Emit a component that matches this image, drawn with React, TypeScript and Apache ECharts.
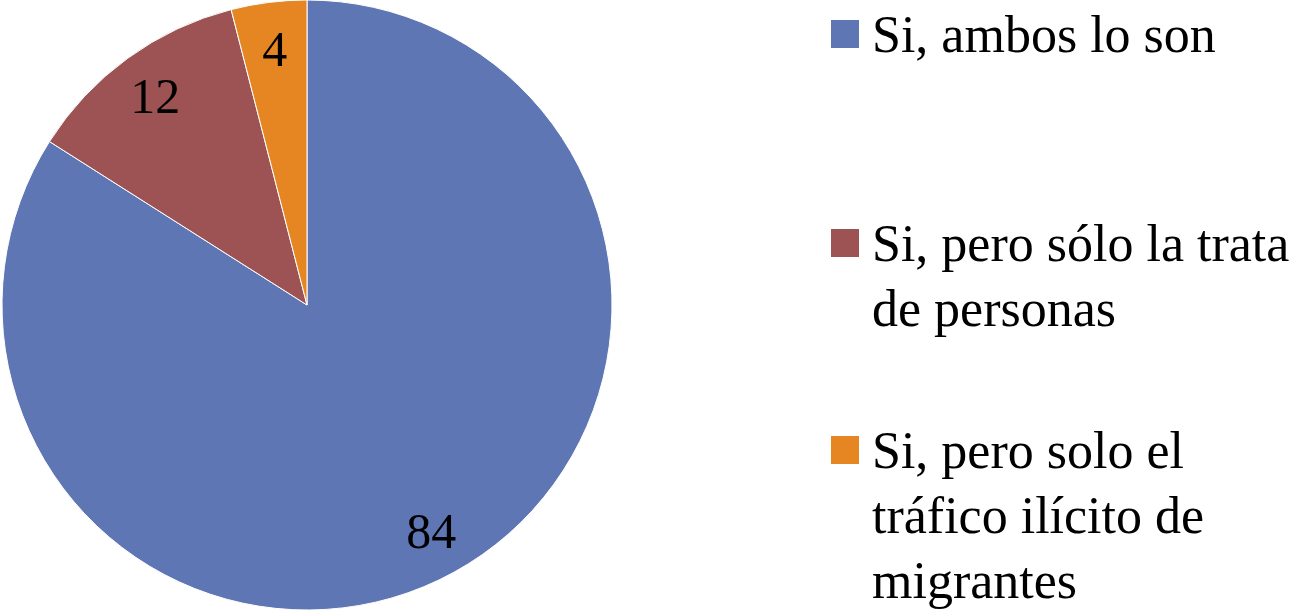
import React, { useEffect, useRef } from "react";
import * as echarts from "echarts";

const categories = [
  "Si, ambos lo son",
  "Si, pero sólo la trata de personas",
  "Si, pero solo el tráfico ilícito de migrantes",
];
const values = [84, 12, 4];
const legendLines = [
  ["Si, ambos lo son"],
  ["Si, pero sólo la trata", "de personas"],
  ["Si, pero solo el", "tráfico ilícito de", "migrantes"],
];
const colors = ["#5f76b4", "#9d5353", "#e68623"];

const FONT = "'Liberation Serif', 'DejaVu Serif', serif";
const LINE_H = 65;
const ICON = 30;

export default function App() {
  const ref = useRef<HTMLDivElement>(null);

  useEffect(() => {
    if (!ref.current) return;
    const chart = echarts.init(ref.current, null, { renderer: "svg" });
    const data = categories.map((name, i) => ({
      name,
      value: values[i],
      itemStyle: { color: colors[i] },
    }));

    const iconTops = [19, 228, 435];
    const legends = categories.map((name, i) => {
      const n = legendLines[i].length;
      const pre = "\n".repeat(n - 1);
      const halfBlock = ((2 * n - 1) * LINE_H + 6) / 2;
      return {
        orient: "vertical",
        left: 829,
        top: iconTops[i] - (halfBlock - ICON / 2),
        padding: 0,
        itemWidth: ICON,
        itemHeight: ICON,
        icon: "rect",
        selectedMode: false,
        data: [name],
        formatter: () => pre + legendLines[i].join("\n"),
        textStyle: {
          fontFamily: FONT,
          fontSize: 52,
          lineHeight: LINE_H,
          color: "#000",
          padding: [0, 0, 6, 7],
        },
      };
    });

    chart.setOption({
      animation: false,
      backgroundColor: {
        type: "radial",
        x: 0.5,
        y: 0.2,
        r: 1.4,
        colorStops: [
          { offset: 0, color: "#ffffff" },
          { offset: 0.78, color: "#ffffff" },
          { offset: 1, color: "#e8e8e8" },
        ],
      },
      legend: legends,
      series: [
        {
          type: "pie",
          center: [307, 305],
          radius: [0, 305],
          startAngle: 90,
          clockwise: true,
          silent: true,
          label: { show: false },
          labelLine: { show: false },
          itemStyle: { borderColor: "#ffffff", borderWidth: 1 },
          data,
        },
        {
          type: "pie",
          center: [307, 305],
          radius: [205, 305],
          startAngle: 90,
          clockwise: true,
          silent: true,
          legendHoverLink: false,
          itemStyle: { color: "rgba(0,0,0,0)", borderWidth: 0 },
          label: {
            show: true,
            position: "inside",
            formatter: "{c}",
            fontFamily: FONT,
            fontSize: 50,
            color: "#000",
          },
          labelLine: { show: false },
          emphasis: { disabled: true },
          data: categories.map((name, i) => ({ name, value: values[i] })),
        },
      ],
    });
    return () => chart.dispose();
  }, []);

  return (
    <div
      ref={ref}
      style={{ position: "absolute", left: 0, top: 0, width: 1294, height: 610 }}
    />
  );
}
